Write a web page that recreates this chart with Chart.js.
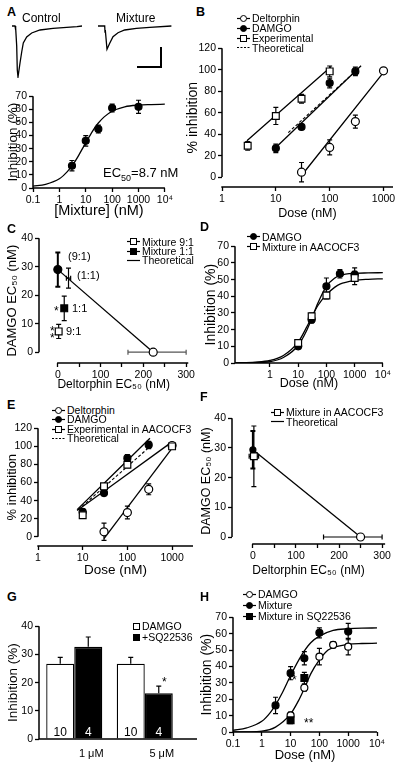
<!DOCTYPE html>
<html>
<head>
<meta charset="utf-8">
<script src="https://cdn.jsdelivr.net/npm/chart.js@4.4.1/dist/chart.umd.min.js"></script>
<style>
  body { margin: 0; width: 400px; height: 766px; position: relative; overflow: hidden; background: #fff;
         font-family: 'Liberation Sans', Arial, Helvetica, sans-serif; }
  canvas { position: absolute; }
  .t { position: absolute; white-space: nowrap; color: #000; line-height: 1; }
  .lt { font-weight: bold; font-size: 12.5px; }
  .lg { position: absolute; display: flex; align-items: center; height: 10px; white-space: nowrap; color: #000; }
  .lg svg { margin-right: 2px; }
</style>
</head>
<body>
<script>
// ---------- data ----------
// A: current traces (sample units) and mixture dose-response
const ctrlT = [0, 3, 3.5, 3.8, 4.7, 5.3, 6, 8, 9.7, 11.3, 14.7, 19.7, 28, 41, 65, 70];
const ctrlI = [0, 0, -4, -2, -20, -44, -51, -37, -26, -17, -11, -7, -4, -2.3, -0.7, 0];
const mixT = [0, 6.7, 7, 7.3, 9, 11.7, 15, 20, 26.7, 38.4, 51.7, 73.4];
const mixI = [0, 0, -6, -4, -23.3, -17.3, -10.7, -6.7, -4, -2.3, -1.3, 0];
const scaleBarT = [63, 63, 39];
const scaleBarI = [-21, -41, -41];

const aDose = [3, 10, 30, 100, 1000];
const aInh = [17, 36, 45, 61, 62];
const aErr = [4, 4, 3, 3, 5];
const aFitDose = [0.1, 0.3, 1, 2, 3, 5, 10, 20, 30, 50, 100, 300, 1000, 3000, 10000];
const aFitInh = [1.5, 2.8, 7, 12.5, 16.8, 23.8, 34.5, 44.8, 49.6, 54.3, 58.6, 62, 63.3, 63.7, 64];

// B
const bDeltDose = [30, 100, 300, 1000], bDeltInh = [4.6, 27.7, 51.7, 99], bDeltErr = [9, 7, 6, 2.5];
const bDamgoDose = [10, 30, 100, 300], bDamgoInh = [26.8, 46.8, 87.7, 98.5], bDamgoErr = [4, 2, 4.5, 4];
const bExpDose = [3, 10, 30, 100], bExpInh = [29.2, 57, 73, 98.5], bExpErr = [4, 8, 4, 5];
const bDeltFitX = [30, 1000], bDeltFitY = [1.5, 97.5];
const bDamgoFitX = [10, 383], bDamgoFitY = [27.7, 103.7];
const bExpFitX = [2.9, 107], bExpFitY = [33.8, 103];
const bTheoFitX = [17, 300], bTheoFitY = [41.5, 98.5];

// C
const cMix91X = [2], cMix91Y = [7.3], cMix91Err = [2.5];
const cMix11X = [15], cMix11Y = [15.4], cMix11Err = [4.3];
const cDamgoX = [0], cDamgoY = [29], cDamgoErr = [6];
const cTheo11X = [25], cTheo11Y = [26], cTheo11Err = [3.5], cTheo11XErr = [5];
const cDeltX = [223], cDeltY = [0], cDeltXErr = [[59, 77]];
const cTheoLineX = [0, 223], cTheoLineY = [29, 0];

// D
const dDamgoDose = [10, 30, 100, 300, 1000], dDamgoInh = [10, 26, 46, 53.5, 53], dDamgoErr = [1.5, 2, 5, 2.5, 4];
const dMixDose = [10, 30, 100, 1000], dMixInh = [12, 28, 40.5, 51], dMixErr = [1, 2, 2, 4];
const dDamgoFitDose = [0.06, 0.3, 1, 3, 10, 20, 30, 50, 100, 200, 300, 1000, 3000, 10000];
const dDamgoFitInh = [0, 0.2, 0.8, 3.3, 10.5, 19.5, 26.5, 36, 46, 51, 52.5, 53.8, 54, 54.2];
const dMixFitDose = [0.06, 0.3, 1, 3, 10, 20, 30, 50, 100, 200, 300, 1000, 3000, 10000];
const dMixFitInh = [0.1, 0.5, 1.5, 4.5, 12.5, 21.5, 27.5, 34.5, 41, 45.5, 47.3, 49.5, 50.2, 50.5];

// E
const eDeltDose = [30, 100, 300, 1000], eDeltInh = [5.5, 26.8, 52.5, 101], eDeltErr = [9.5, 7, 6, 3];
const eDamgoDose = [10, 30, 100, 300], eDamgoInh = [27.5, 48.4, 87, 101.6], eDamgoErr = [3, 3, 4, 4];
const eExpDose = [10, 30, 100, 1000], eExpInh = [23.9, 55.8, 79.6, 100], eExpErr = [3, 3, 3, 3];
const eDeltFitX = [30, 1150], eDeltFitY = [-2, 102];
const eDamgoFitX = [7.5, 320], eDamgoFitY = [30, 109];
const eExpFitX = [7.5, 1000], eExpFitY = [29, 105];
const eTheoFitX = [8, 380], eTheoFitY = [30, 103];

// F
const fMixX = [2.3], fMixY = [27.2], fMixErr = [10.2], fMixXErr = [11];
const fDamgoX = [0], fDamgoY = [29.4], fDamgoErr = [6.3];
const fDeltX = [250], fDeltY = [0], fDeltXErr = [[86, 50]];
const fTheoLineX = [0, 250], fTheoLineY = [29.4, 0];

// G
const gCats = ['1 \u03bcM', '5 \u03bcM'];
const gDamgo = [26.7, 26.7], gDamgoErr = [2.3, 2.3], gDamgoN = ['10', '10'];
const gSq = [32.7, 16.2], gSqErr = [3.5, 2.6], gSqN = ['4', '4'];

// H
const hDamgoDose = [10, 30, 100, 300, 1000], hDamgoInh = [10.1, 27, 46, 53.2, 52.1], hDamgoErr = [2, 2, 5, 2, 5];
const hMixDose = [3, 10, 30, 100, 1000], hMixInh = [16.2, 35.9, 45, 60.5, 61.3], hMixErr = [5, 4, 4, 3, 5];
const hSqDose = [10, 30], hSqInh = [7.1, 32.9], hSqErr = [2, 3.5];
const hMixFitDose = [0.1, 0.3, 1, 2, 3, 5, 10, 20, 30, 50, 100, 300, 1000, 3000, 10000];
const hMixFitInh = [1, 2.5, 6.5, 12, 16.5, 23.5, 34.5, 44.5, 49.5, 54.5, 58.5, 62, 63, 63.4, 63.5];
const hDamgoFitDose = [0.1, 0.3, 1, 3, 10, 20, 30, 50, 100, 200, 300, 1000, 3000, 10000];
const hDamgoFitInh = [0, 0.1, 0.5, 3, 11, 20, 26.5, 35.5, 44, 50, 51.5, 53.5, 54, 54.2];

const logTicks = [0.1, 1, 10, 100, 1000, 10000];
const logLabels = ['0.1', '1', '10', '100', '1000', '10\u2074'];

// ---------- helpers ----------
Chart.defaults.font.family = "'Liberation Sans', Arial, Helvetica, sans-serif";
Chart.defaults.color = '#000';

const pts = (xs, ys) => xs.map((x, i) => ({x: x, y: ys[i]}));
const lohi = e => Array.isArray(e) ? e : [e, e];

function makeCanvas(l, t, r, b) {
  const c = document.createElement('canvas');
  c.width = r - l; c.height = b - t;
  c.style.left = l + 'px'; c.style.top = t + 'px';
  c.style.width = c.width + 'px'; c.style.height = c.height + 'px';
  document.body.appendChild(c);
  return c;
}

const spines = {
  id: 'spines',
  afterDraw(chart, args, o) {
    const {ctx, chartArea: a} = chart;
    const x = chart.scales.x, y = chart.scales.y;
    const yTop = o.yTo != null ? y.getPixelForValue(o.yTo) : a.top;
    const yBot = o.yFrom != null ? y.getPixelForValue(o.yFrom) : a.bottom;
    const xL = o.xFrom != null ? x.getPixelForValue(o.xFrom) : a.left;
    const xR = a.right + (o.extend || 0);
    ctx.save();
    ctx.strokeStyle = '#000'; ctx.lineWidth = 1.5;
    ctx.beginPath();
    ctx.moveTo(a.left, yTop); ctx.lineTo(a.left, yBot);
    ctx.moveTo(xL - 0.7, a.bottom); ctx.lineTo(xR, a.bottom);
    ctx.stroke();
    ctx.restore();
  }
};

function drawErrors(chart, onTop) {
  const ctx = chart.ctx, xs = chart.scales.x, ys = chart.scales.y;
  chart.data.datasets.forEach((ds, di) => {
    if (!ds.yErr && !ds.xErr) return;
    if (!!ds.errOnTop !== onTop) return;
    const meta = chart.getDatasetMeta(di);
    ctx.save();
    ctx.strokeStyle = ds.errColor || '#000';
    ctx.lineWidth = ds.errWidth || 1.2;
    const cap = ds.errCap == null ? 2.5 : ds.errCap;
    meta.data.forEach((el, i) => {
      const d = ds.data[i];
      const v = typeof d === 'object' ? d.y : d;
      ctx.beginPath();
      if (ds.yErr && ds.yErr[i]) {
        const [lo, hi] = lohi(ds.yErr[i]);
        const t = ys.getPixelForValue(v + hi);
        const b = ds.errUpOnly ? el.y : ys.getPixelForValue(v - lo);
        ctx.moveTo(el.x, t); ctx.lineTo(el.x, b);
        ctx.moveTo(el.x - cap, t); ctx.lineTo(el.x + cap, t);
        if (!ds.errUpOnly) { ctx.moveTo(el.x - cap, b); ctx.lineTo(el.x + cap, b); }
      }
      if (ds.xErr && ds.xErr[i]) {
        const [lo, hi] = lohi(ds.xErr[i]);
        const l = xs.getPixelForValue(d.x - lo), r = xs.getPixelForValue(d.x + hi);
        ctx.moveTo(l, el.y); ctx.lineTo(r, el.y);
        ctx.moveTo(l, el.y - cap); ctx.lineTo(l, el.y + cap);
        ctx.moveTo(r, el.y - cap); ctx.lineTo(r, el.y + cap);
      }
      ctx.stroke();
    });
    ctx.restore();
  });
}

const errorBars = {
  id: 'errorBars',
  beforeDatasetsDraw(chart) { drawErrors(chart, false); },
  afterDatasetsDraw(chart) {
    drawErrors(chart, true);
    // n labels inside bars
    const ctx = chart.ctx;
    chart.data.datasets.forEach((ds, di) => {
      if (!ds.nLabels) return;
      ctx.save();
      ctx.font = "12px 'Liberation Sans', Arial, sans-serif";
      ctx.fillStyle = ds.nColor; ctx.textAlign = 'center'; ctx.textBaseline = 'middle';
      chart.getDatasetMeta(di).data.forEach((el, i) => ctx.fillText(ds.nLabels[i], el.x, chart.chartArea.bottom - 6.5));
      ctx.restore();
    });
  }
};

function axis(type, min, max, ticks, labels, title, tfs, extra) {
  return Object.assign({
    type: type, min: min, max: max,
    afterBuildTicks: s => { s.ticks = ticks.map(v => ({value: v})); },
    grid: {drawOnChartArea: false, drawTicks: true, tickLength: 4, tickWidth: 1.3, tickColor: '#000'},
    border: {display: false},
    ticks: {font: {size: 10.5}, padding: 2, maxRotation: 0, autoSkip: false, callback: (v, i) => labels[i]},
    title: {display: !!title, text: title, font: {size: tfs || 13}, padding: 0}
  }, extra || {});
}

function markers(xs, ys, err, shape, filled, extra) {
  return Object.assign({
    data: pts(xs, ys), yErr: err, showLine: false, order: 1,
    pointStyle: shape === 'square' ? 'rect' : 'circle',
    pointRadius: shape === 'square' ? 4.8 : 3.5,
    pointBackgroundColor: filled ? '#000' : '#fff', pointBorderColor: '#000', pointBorderWidth: 1.2
  }, extra || {});
}

function fit(xs, ys, extra) {
  return Object.assign({
    data: pts(xs, ys), showLine: true, pointRadius: 0, borderColor: '#000', borderWidth: 1.3,
    order: 2, cubicInterpolationMode: 'monotone'
  }, extra || {});
}

// box = canvas [l, t, r, b], area = plot area [l, t, r, b]
function panel(box, area, xAxis, yAxis, datasets, spineOpt, type) {
  const c = makeCanvas(box[0], box[1], box[2], box[3]);
  xAxis.afterFit = s => { s.height = box[3] - area[3]; };
  yAxis.afterFit = s => { s.width = area[0] - box[0]; };
  return new Chart(c, {
    type: type || 'scatter',
    data: type === 'bar' ? {labels: gCats, datasets: datasets} : {datasets: datasets},
    options: {
      responsive: false, animation: false, devicePixelRatio: 1,
      layout: {autoPadding: false, padding: {left: 0, top: area[1] - box[1], right: box[2] - area[2], bottom: 0}},
      scales: {x: xAxis, y: yAxis},
      plugins: {legend: {display: false}, tooltip: {enabled: false}, spines: spineOpt || {}}
    },
    plugins: [spines, errorBars]
  });
}

function traceChart(l, t, xs, ys, extra) {
  const c = makeCanvas(l, t, l + 75, t + 56);
  const ds = [{data: pts(xs, ys), showLine: true, pointRadius: 0, borderColor: '#000', borderWidth: 1.3}];
  if (extra) ds.push(extra);
  new Chart(c, {
    type: 'scatter', data: {datasets: ds},
    options: {
      responsive: false, animation: false, devicePixelRatio: 1,
      layout: {autoPadding: false, padding: 0},
      scales: {x: {display: false, min: 0, max: 75}, y: {display: false, min: -52, max: 4}},
      plugins: {legend: {display: false}, tooltip: {enabled: false}}
    }
  });
}

function text(html, l, cy, fs, cls) {
  const d = document.createElement('div');
  d.className = 't ' + (cls || '');
  d.style.left = l + 'px'; d.style.top = (cy - fs / 2) + 'px'; d.style.fontSize = fs + 'px';
  d.innerHTML = html;
  document.body.appendChild(d);
}

function icon(it) {
  const w = it.w || 13, cx = w / 2;
  let s = '<svg width="' + w + '" height="9">';
  if (it.line) s += '<line x1="0" y1="4.5" x2="' + w + '" y2="4.5" stroke="#000" stroke-width="1.2"' +
    (it.line === 'dash' ? ' stroke-dasharray="2,1.5"' : '') + '/>';
  const f = it.fill ? '#000' : '#fff';
  if (it.mk === 'circle') s += '<circle cx="' + cx + '" cy="4.5" r="3" fill="' + f + '" stroke="#000" stroke-width="1"/>';
  if (it.mk === 'square') s += '<rect x="' + (cx - 3) + '" y="1.5" width="6" height="6" fill="' + f + '" stroke="#000" stroke-width="1"/>';
  return s + '</svg>';
}

function legend(x, ys, fs, items) {
  items.forEach((it, i) => {
    const d = document.createElement('div');
    d.className = 'lg';
    d.style.left = x + 'px'; d.style.top = (ys[i] - 5) + 'px'; d.style.fontSize = fs + 'px';
    d.innerHTML = icon(it) + '<span>' + it.label + '</span>';
    document.body.appendChild(d);
  });
}

// ---------- panel A ----------
traceChart(12, 22, ctrlT, ctrlI);
traceChart(98, 22, mixT, mixI, {data: pts(scaleBarT, scaleBarI), showLine: true, pointRadius: 0, borderColor: '#000', borderWidth: 2});

panel([5, 88, 175, 220], [33, 96, 167, 188],
  axis('logarithmic', 0.1, 10000, logTicks, logLabels, '[Mixture] (nM)', 14.5),
  axis('linear', 0, 70, [0, 10, 20, 30, 40, 50, 60, 70], ['0', '10', '20', '30', '40', '50', '60', '70'], 'Inhibition (%)', 13.5),
  [markers(aDose, aInh, aErr, 'circle', true),
   fit(aFitDose, aFitInh)]);

// ---------- panel B ----------
panel([185, 40, 398, 221], [222, 47, 393, 187],
  axis('logarithmic', 1, 1500, [1, 10, 100, 1000], ['1', '10', '100', '1000'], 'Dose (nM)', 12.5),
  axis('linear', -9.2, 120, [0, 20, 40, 60, 80, 100, 120], ['0', '20', '40', '60', '80', '100', '120'], '% inhibition', 14),
  [markers(bExpDose, bExpInh, bExpErr, 'square', false),
   markers(bDamgoDose, bDamgoInh, bDamgoErr, 'circle', true),
   markers(bDeltDose, bDeltInh, bDeltErr, 'circle', false, {pointRadius: 4}),
   fit(bTheoFitX, bTheoFitY, {borderDash: [3, 2], borderWidth: 1.1}),
   fit(bExpFitX, bExpFitY), fit(bDamgoFitX, bDamgoFitY), fit(bDeltFitX, bDeltFitY)],
  {yFrom: 0, yTo: 120});

// ---------- panel C ----------
const linTicks = [0, 50, 100, 150, 200, 250, 300];
const linLabels = ['0', '', '100', '', '200', '', '300'];
panel([5, 230, 197, 392], [39, 237, 190, 363],
  axis('linear', -44, 305, linTicks, linLabels, 'Deltorphin EC\u2085\u2080 (nM)', 12),
  axis('linear', -3.8, 40, [0, 10, 20, 30, 40], ['0', '10', '20', '30', '40'], 'DAMGO EC\u2085\u2080 (nM)', 13),
  [markers(cMix91X, cMix91Y, cMix91Err, 'square', false),
   markers(cMix11X, cMix11Y, cMix11Err, 'square', true),
   markers(cDamgoX, cDamgoY, cDamgoErr, 'circle', true, {pointRadius: 4, errWidth: 2}),
   markers(cTheo11X, cTheo11Y, cTheo11Err, 'circle', false, {pointRadius: 0, xErr: cTheo11XErr}),
   markers(cDeltX, cDeltY, null, 'circle', false, {pointRadius: 4, xErr: cDeltXErr, errColor: '#555'}),
   fit(cTheoLineX, cTheoLineY)],
  {yFrom: 0, yTo: 40, xFrom: 0});

// ---------- panel D ----------
panel([203, 238, 393, 391], [235, 246, 384, 363],
  axis('logarithmic', 0.058, 10000, [1, 10, 100, 1000, 10000], ['1', '10', '100', '1000', '10\u2074'], 'Dose (nM)', 12.5),
  axis('linear', 0, 70, [0, 10, 20, 30, 40, 50, 60, 70], ['0', '10', '20', '30', '40', '50', '60', '70'], 'Inhibition (%)', 14),
  [markers(dMixDose, dMixInh, dMixErr, 'square', false),
   markers(dDamgoDose, dDamgoInh, dDamgoErr, 'circle', true),
   fit(dDamgoFitDose, dDamgoFitInh), fit(dMixFitDose, dMixFitInh)]);

// ---------- panel E ----------
panel([5, 420, 198, 578], [38, 428, 193, 546],
  axis('logarithmic', 1, 2940, [1, 10, 100, 1000], ['1', '10', '100', '1000'], 'Dose (nM)', 13.5),
  axis('linear', -10.2, 120, [0, 20, 40, 60, 80, 100, 120], ['0', '20', '40', '60', '80', '100', '120'], '% inhibition', 13),
  [markers(eExpDose, eExpInh, eExpErr, 'square', false),
   markers(eDamgoDose, eDamgoInh, eDamgoErr, 'circle', true),
   markers(eDeltDose, eDeltInh, eDeltErr, 'circle', false, {pointRadius: 4}),
   fit(eTheoFitX, eTheoFitY, {borderDash: [3, 2], borderWidth: 1.1}),
   fit(eExpFitX, eExpFitY), fit(eDamgoFitX, eDamgoFitY), fit(eDeltFitX, eDeltFitY)],
  {yFrom: 0, yTo: 120});

// ---------- panel F ----------
panel([199, 410, 393, 578], [232, 418, 386, 544],
  axis('linear', -48.5, 307, linTicks, linLabels, 'Deltorphin EC\u2085\u2080 (nM)', 12),
  axis('linear', -2.35, 40, [0, 10, 20, 30, 40], ['0', '10', '20', '30', '40'], 'DAMGO EC\u2085\u2080 (nM)', 12.5),
  [markers(fMixX, fMixY, fMixErr, 'square', false, {xErr: fMixXErr}),
   markers(fDamgoX, fDamgoY, fDamgoErr, 'circle', true, {pointRadius: 3, errWidth: 2}),
   markers(fDeltX, fDeltY, null, 'circle', false, {pointRadius: 4, xErr: fDeltXErr}),
   fit(fTheoLineX, fTheoLineY)],
  {yFrom: 0, yTo: 40, xFrom: 0});

// ---------- panel G ----------
panel([5, 618, 200, 762], [39, 626, 180, 739],
  {type: 'category', grid: {display: false, drawTicks: false}, border: {display: false},
   ticks: {font: {size: 11}, padding: 8, labelOffset: 17, maxRotation: 0}},
  axis('linear', 0, 40, [0, 10, 20, 30, 40], ['0', '10', '20', '30', '40'], 'Inhibition (%)', 13.5),
  [{data: gDamgo, backgroundColor: '#fff', borderColor: '#000', borderWidth: 1.3, borderSkipped: 'bottom',
    categoryPercentage: 0.795, barPercentage: 1, yErr: gDamgoErr, errUpOnly: true, errOnTop: true,
    nLabels: gDamgoN, nColor: '#000'},
   {data: gSq, backgroundColor: '#000', borderColor: '#000', borderWidth: 1.3, borderSkipped: 'bottom',
    categoryPercentage: 0.795, barPercentage: 1, yErr: gSqErr, errUpOnly: true, errOnTop: true,
    nLabels: gSqN, nColor: '#fff'}],
  {extend: 17}, 'bar');

// ---------- panel H ----------
panel([199, 609, 393, 763], [233, 617, 377, 732],
  axis('logarithmic', 0.1, 10000, logTicks, logLabels, 'Dose (nM)', 13),
  axis('linear', 0, 70, [0, 10, 20, 30, 40, 50, 60, 70], ['0', '10', '20', '30', '40', '50', '60', '70'], 'Inhibition (%)', 14),
  [markers(hSqDose, hSqInh, hSqErr, 'square', true),
   markers(hMixDose, hMixInh, hMixErr, 'circle', true),
   markers(hDamgoDose, hDamgoInh, hDamgoErr, 'circle', false),
   fit(hMixFitDose, hMixFitInh), fit(hDamgoFitDose, hDamgoFitInh)]);

// ---------- text ----------
[['A', 7, 12], ['B', 196, 12], ['C', 7, 229], ['D', 200, 227], ['E', 7, 405], ['F', 200, 397], ['G', 7, 597], ['H', 200, 597]]
  .forEach(p => text(p[0], p[1], p[2], 12.5, 'lt'));
text('Control', 22, 17.5, 12);
text('Mixture', 116, 17.5, 12);
text('EC<sub style="font-size:9px">50</sub>=8.7 nM', 103, 172, 13);
text('(9:1)', 68, 256, 11);
text('(1:1)', 77, 275, 11);
text('1:1', 72, 308, 11);
text('9:1', 66, 331, 11);
text('*', 54, 311, 12);
text('*', 50, 331, 12);
text('*', 50, 338, 12);
text('*', 162, 682, 12);
text('*', 292, 680, 12);
text('**', 304, 723, 12);

// ---------- legends ----------
legend(237, [18.3, 28.3, 38.3, 47.7], 10.5, [
  {label: 'Deltorphin', mk: 'circle', line: 'solid'},
  {label: 'DAMGO', mk: 'circle', fill: true, line: 'solid'},
  {label: 'Experimental', mk: 'square', line: 'solid'},
  {label: 'Theoretical', line: 'dash'}]);
legend(127, [241.7, 251, 260.3], 10.5, [
  {label: 'Mixture 9:1', mk: 'square', line: 'solid'},
  {label: 'Mixture 1:1', mk: 'square', fill: true, line: 'solid'},
  {label: 'Theoretical', line: 'solid'}]);
legend(247, [236.7, 246.7], 10.5, [
  {label: 'DAMGO', mk: 'circle', fill: true, line: 'solid'},
  {label: 'Mixture in AACOCF3', mk: 'square', line: 'solid'}]);
legend(52, [410, 419.3, 429.3, 438.3], 10.5, [
  {label: 'Deltorphin', mk: 'circle', line: 'solid'},
  {label: 'DAMGO', mk: 'circle', fill: true, line: 'solid'},
  {label: 'Experimental in AACOCF3', mk: 'square', line: 'solid'},
  {label: 'Theoretical', line: 'dash'}]);
legend(271, [412.3, 421.7], 10.5, [
  {label: 'Mixture in AACOCF3', mk: 'square', line: 'solid'},
  {label: 'Theoretical', line: 'solid'}]);
legend(133, [626, 637.3], 10.5, [
  {label: 'DAMGO', mk: 'square', w: 7},
  {label: '+SQ22536', mk: 'square', fill: true, w: 7}]);
legend(243, [594, 605, 616], 10.5, [
  {label: 'DAMGO', mk: 'circle', line: 'solid'},
  {label: 'Mixture', mk: 'circle', fill: true, line: 'solid'},
  {label: 'Mixture in SQ22536', mk: 'square', fill: true, line: 'solid'}]);
</script>
</body>
</html>
